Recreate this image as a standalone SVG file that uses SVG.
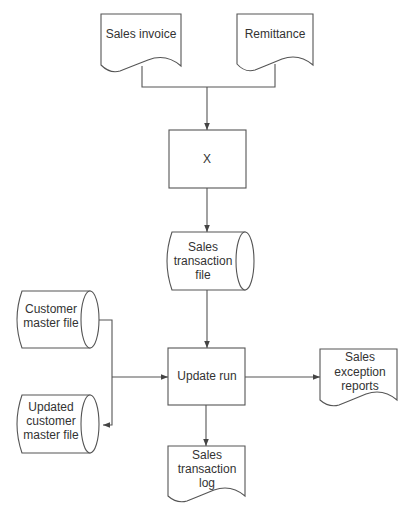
<svg xmlns="http://www.w3.org/2000/svg" width="419" height="506" viewBox="0 0 419 506">
<defs>
<marker id="arr" viewBox="0 0 10 10" refX="10" refY="5" markerWidth="7" markerHeight="7" markerUnits="userSpaceOnUse" orient="auto">
<path d="M0,1 L10,5 L0,9 Z" fill="#444"/>
</marker>
</defs>
<style>
.s{fill:#fff;stroke:#555;stroke-width:1.1}
.l{fill:none;stroke:#555;stroke-width:1.1}
text{font-family:"Liberation Sans",Arial,sans-serif;font-size:12px;fill:#333;text-anchor:middle}
</style>
<rect width="419" height="506" fill="#fff"/>
<g id="connectors">
<path class="l" d="M142,66 V87 H275 V64"/>
<path class="l" d="M207,87 V130" marker-end="url(#arr)"/>
<path class="l" d="M207,188 V232" marker-end="url(#arr)"/>
<path class="l" d="M207,290 V348" marker-end="url(#arr)"/>
<path class="l" d="M99,320 H112 V425 H103" marker-end="url(#arr)"/>
<path class="l" d="M112,377 H168" marker-end="url(#arr)"/>
<path class="l" d="M245,377 H320" marker-end="url(#arr)"/>
<path class="l" d="M206,405 V446" marker-end="url(#arr)"/>
</g>
<g id="sales-invoice">
<path class="s" d="M101,14 H181 V66 Q166,53 148,60 Q130,67 120,71 Q110,74 101,65 Z"/>
<text x="141" y="38">Sales invoice</text>
</g>
<g id="remittance">
<path class="s" d="M237,14 H313 V65 Q299,53 282,59 Q265,66 255,70 Q245,73 237,64 Z"/>
<text x="275" y="38">Remittance</text>
</g>
<g id="x">
<rect class="s" x="169" y="130" width="77" height="58"/>
<text x="207" y="163">X</text>
</g>
<g id="sales-transaction-file">
<path class="s" d="M172,232 H245 V290 H172 Q162,261 172,232 Z"/>
<ellipse class="s" cx="245" cy="261" rx="9" ry="29"/>
<text x="203" y="251">Sales</text>
<text x="203" y="265">transaction</text>
<text x="203" y="279">file</text>
</g>
<g id="customer-master-file">
<path class="s" d="M22,291 H90 V348 H22 Q12,319.5 22,291 Z"/>
<ellipse class="s" cx="90" cy="319.5" rx="9" ry="28.5"/>
<text x="51" y="313">Customer</text>
<text x="51" y="327">master file</text>
</g>
<g id="updated-customer-master-file">
<path class="s" d="M22,395 H90 V453 H22 Q12,424 22,395 Z"/>
<ellipse class="s" cx="90" cy="424" rx="9" ry="29"/>
<text x="51" y="411">Updated</text>
<text x="51" y="425">customer</text>
<text x="51" y="439">master file</text>
</g>
<g id="update-run">
<rect class="s" x="168" y="348" width="77" height="57"/>
<text x="207" y="380">Update run</text>
</g>
<g id="sales-exception-reports">
<path class="s" d="M320,349 H397 V400 Q383,388 366,394 Q349,401 339,405 Q329,408 320,400 Z"/>
<text x="360" y="361">Sales</text>
<text x="360" y="376">exception</text>
<text x="360" y="390">reports</text>
</g>
<g id="sales-transaction-log">
<path class="s" d="M168,446 H245 V496 Q231,484 214,490 Q197,497 187,501 Q177,504 168,496 Z"/>
<text x="207" y="459">Sales</text>
<text x="207" y="473">transaction</text>
<text x="207" y="487">log</text>
</g>
</svg>
